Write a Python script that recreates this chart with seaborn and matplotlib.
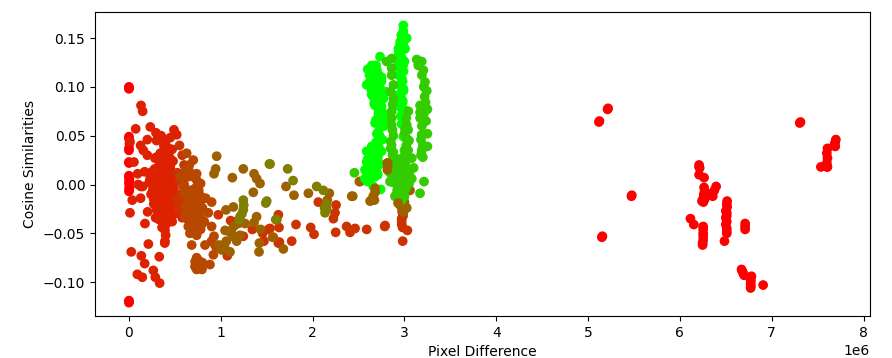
import numpy as np
import pandas as pd
import matplotlib
matplotlib.use('Agg')
import matplotlib.pyplot as plt
from matplotlib.colors import LinearSegmentedColormap
import seaborn as sns

# pixel difference in millions, cosine similarity, grouped by how green the point is
red_x = [0, 0, 0, 0, 0, 0, 0, 0, 0.005, 0.005, 0, 0, 0, 0, 0, 0, 0, 0, 0.003, 0.003, 0.003,
         5.218, 5.212, 5.124, 5.118, 5.476, 5.472, 5.156, 5.15, 7.313, 7.305, 7.698, 7.691, 7.607, 7.607, 7.607, 7.535,
         7.60, 7.60, 7.60, 7.69, 7.68,
         6.209, 6.209, 6.209, 6.215, 6.263, 6.263, 6.263, 6.256, 6.394, 6.358, 6.115, 6.151,
         6.375, 6.27, 6.25, 6.27, 6.35, 6.24, 6.26, 6.253, 6.253, 6.253, 6.247, 6.253, 6.253, 6.247,
         6.514, 6.514, 6.51, 6.51, 6.51, 6.51, 6.485, 6.50, 6.50, 6.50, 6.51, 6.51, 6.51,
         6.71, 6.71, 6.71, 6.671, 6.70, 6.779, 6.772, 6.772, 6.906, 6.68, 6.69, 6.77, 6.77, 6.77]
red_y = [0.100, 0.047, 0.035, 0.022, 0.009, 0.001, -0.007, -0.120, 0.042, 0.005, 0.098, 0.099, -0.119, -0.121,
         0.049, 0.037, 0.023, 0.007, -0.003, 0.003, -0.005,
         0.078, 0.077, 0.065, 0.064, -0.011, -0.012, -0.053, -0.054, 0.064, 0.063, 0.046, 0.039, 0.037, 0.027, 0.018, 0.018,
         0.032, 0.022, 0.018, 0.043, 0.040,
         0.020, 0.018, 0.010, 0.017, 0.007, -0.003, -0.012, -0.018, -0.002, -0.012, -0.035, -0.041,
         -0.006, -0.007, -0.015, -0.015, -0.009, -0.017, -0.010, -0.043, -0.050, -0.057, -0.062, -0.046, -0.053, -0.060,
         -0.017, -0.023, -0.032, -0.038, -0.045, -0.050, -0.058, -0.027, -0.034, -0.041, -0.020, -0.029, -0.048,
         -0.043, -0.040, -0.046, -0.087, -0.093, -0.094, -0.099, -0.104, -0.103, -0.089, -0.091, -0.097, -0.102, -0.106]

left_x = [0.131, 0.149, 0.073, 0.232, 0.011, 0.127, 0.156, 0.200, 0.294, 0.054, 0.094, 0.283,
          0.149, 0.036, 0.127, 0.011, 0.203, 0.174, 0.211, 0.025, 0.134, 0.171, 0.330, 0.091,
          0.145, 0.265, 0.287, 0.334, 0.392, 0.392, 0.381,
          0.30, 0.35, 0.40, 0.45, 0.49, 0.52, 0.38, 0.42, 0.47, 0.30, 0.34, 0.39, 0.44, 0.48,
          0.25, 0.28, 0.33, 0.37, 0.41, 0.46, 0.50, 0.22, 0.26, 0.31, 0.36, 0.40, 0.44, 0.49,
          0.24, 0.29, 0.34, 0.38, 0.43, 0.47, 0.52, 0.27, 0.32, 0.37, 0.42, 0.46, 0.35, 0.40,
          0.30, 0.44, 0.50, 0.54, 0.58, 0.38, 0.34, 0.41, 0.47,
          0.33, 0.37, 0.41, 0.45, 0.31, 0.35, 0.39, 0.43, 0.47, 0.33, 0.37, 0.41, 0.45, 0.49,
          0.27, 0.31, 0.35, 0.39, 0.43, 0.47, 0.29, 0.33, 0.37, 0.41, 0.45, 0.49, 0.53, 0.36, 0.40, 0.38, 0.39,
          0.20, 0.23, 0.17, 0.13, 0.10, 0.26, 0.38, 0.40, 0.36, 0.395]
left_y = [0.081, 0.075, 0.057, 0.059, 0.044, 0.040, 0.035, 0.046, 0.053, 0.023, 0.011, 0.027,
          -0.002, -0.016, -0.014, -0.029, -0.028, -0.040, -0.061, -0.069, -0.073, -0.081, -0.074, -0.092,
          -0.095, -0.088, -0.095, -0.101, -0.058, -0.047, -0.035,
          0.045, 0.050, 0.045, 0.048, 0.056, 0.051, 0.035, 0.038, 0.036, 0.028, 0.025, 0.026, 0.028, 0.024,
          0.013, 0.016, 0.012, 0.015, 0.012, 0.014, 0.011, 0.002, 0.000, 0.003, -0.001, 0.002, 0.000, 0.003,
          -0.010, -0.008, -0.012, -0.009, -0.011, -0.008, -0.012, -0.020, -0.022, -0.019, -0.021, -0.024,
          -0.030, -0.028, -0.026, -0.032, -0.030, -0.028, -0.034, 0.040, 0.032, -0.040, -0.038,
          0.020, 0.020, 0.018, 0.019, 0.008, 0.007, 0.006, 0.006, 0.007, -0.004, -0.005, -0.003, -0.005, -0.004,
          -0.015, -0.016, -0.017, -0.014, -0.016, -0.015, -0.034, -0.036, -0.026, -0.034, -0.024, -0.020, -0.019, -0.044, -0.052, -0.028, -0.060,
          0.030, 0.006, 0.013, -0.002, 0.000, -0.005, 0.030, 0.031, -0.024, -0.042]

rust_x = [0.973, 1.107, 1.166, 1.245, 1.344, 1.071, 1.518, 1.456, 1.47, 1.627, 1.627,
          2.062, 2.255, 2.244, 2.226, 1.634, 1.819, 1.536, 1.979, 2.015, 2.251, 2.37, 2.407,
          2.462, 2.589, 2.785, 1.772, 1.638, 2.97, 2.97, 2.981, 3.032, 2.789,
          0.55, 0.58, 0.60, 0.53, 0.56, 0.60, 0.52, 0.56, 0.54, 0.58, 0.61, 0.63, 2.975, 2.985, 2.97, 2.98]
rust_y = [-0.031, -0.037, -0.038, -0.053, -0.046, -0.073, -0.046, -0.050, -0.058, -0.031, -0.060,
          -0.018, -0.021, -0.029, -0.035, -0.044, -0.041, -0.045, -0.044, -0.051, -0.049, -0.043, -0.049,
          -0.045, -0.046, -0.043, -0.058, -0.059, -0.035, -0.041, -0.058, -0.047, -0.042,
          0.040, 0.030, 0.020, 0.012, 0.003, 0.000, -0.015, -0.010, -0.025, -0.023, -0.015, -0.035, -0.028, -0.032, -0.038, -0.044]

orange_x = [0.628, 0.70, 0.657, 0.737, 0.78, 0.556, 0.646, 0.592, 0.664, 0.70, 0.773, 0.664, 0.61,
            0.683, 0.773, 0.79, 0.664, 0.737, 0.646, 0.683, 0.737, 0.719, 0.795, 0.737,
            0.835, 0.90, 0.864, 0.90, 0.926, 0.828, 0.937, 0.919, 0.882,
            0.62, 0.66, 0.70, 0.74, 0.60, 0.64, 0.68, 0.72, 0.76, 0.62, 0.66, 0.70, 0.74, 0.78,
            0.64, 0.68, 0.72, 0.76, 0.80, 0.70, 0.74, 0.78, 0.82, 0.76, 0.80, 0.75, 0.78, 0.72, 0.76, 0.90, 0.95]
orange_y = [0.032, 0.025, 0.020, 0.011, 0.001, 0.008, 0.008, -0.002, -0.006, -0.014, -0.019, -0.026, -0.033,
            -0.036, -0.033, -0.041, -0.050, -0.052, -0.043, -0.062, -0.075, -0.084, -0.087, -0.087,
            -0.014, -0.018, -0.029, -0.043, -0.053, -0.062, -0.062, -0.072, -0.082,
            0.015, 0.013, 0.008, 0.004, -0.010, -0.012, -0.009, -0.004, -0.006, -0.022, -0.020, -0.023, -0.025, -0.012,
            -0.030, -0.031, -0.034, -0.028, -0.024, -0.044, -0.042, -0.046, -0.038, -0.078, -0.080, -0.082, -0.085, -0.079, -0.083, -0.058, -0.064]

brown_x = [0.955, 0.944, 0.926, 1.126, 1.245, 1.362, 1.39, 1.427, 1.354, 1.057, 1.137, 1.21, 1.19, 1.264,
           1.39, 1.362, 1.046, 1.118, 1.21, 1.173, 1.028, 1.10, 1.01, 1.434, 1.42, 1.416, 1.565, 1.61,
           1.536, 1.71, 1.797, 1.954, 2.16, 2.182, 1.681, 1.572, 2.509, 2.426, 2.516, 2.437,
           3.061, 3.025, 2.953, 0.98, 1.02, 1.06, 1.15, 1.09, 1.14, 1.04, 2.96, 2.97, 2.99, 3.00, 2.98]
brown_y = [0.029, 0.016, 0.011, 0.007, 0.016, 0.011, 0.006, 0.001, -0.008, -0.026, -0.023, -0.033, -0.040, -0.040,
           -0.033, -0.039, -0.047, -0.050, -0.052, -0.058, -0.062, -0.069, -0.067, -0.046, -0.060, -0.069, -0.054, -0.036,
           0.021, -0.002, -0.011, -0.009, -0.016, -0.009, -0.066, -0.054, 0.003, -0.012, 0.003, -0.012,
           -0.006, -0.024, -0.021, -0.062, -0.066, -0.058, -0.054, -0.048, -0.043, -0.064, -0.014, -0.024, -0.028, -0.018, -0.010]

olive_x = [1.245, 1.529, 1.49, 1.50, 1.245, 1.598, 1.728, 1.787, 2.044, 2.117, 2.153, 2.135, 1.23, 1.20, 1.25, 2.15, 2.13]
olive_y = [-0.016, 0.021, -0.019, -0.017, -0.026, -0.036, 0.016, 0.004, -0.002, -0.006, -0.025, -0.029, -0.030, -0.036, -0.021, -0.020, -0.024]

bright_x = [2.988, 2.988, 2.953, 3.025, 2.934, 3.007, 2.97, 2.953, 2.97, 2.988, 2.953, 3.006, 2.953, 2.988, 2.999,
            2.734, 2.643, 2.625, 2.589, 2.643, 2.70, 2.68, 2.734, 2.771, 2.68, 2.716, 2.68, 2.771, 2.843, 2.716,
            2.716, 2.589, 2.643, 2.716, 2.589, 2.57, 2.625, 2.57, 2.716, 2.661, 2.741, 2.62, 2.66, 2.70, 2.75, 2.80,
            2.60, 2.62, 2.65, 2.67, 2.69, 2.72, 2.75, 2.62, 2.65, 2.68, 2.71, 2.74, 2.64, 2.66, 2.69, 2.72, 2.75,
            2.67, 2.70, 2.73, 2.76, 2.79, 2.69, 2.72, 2.75, 2.78, 2.70, 2.73, 2.76, 2.69, 2.72, 2.75, 2.68, 2.71, 2.66,
            2.69, 2.60, 2.63, 2.66, 2.69, 2.72, 2.59, 2.62, 2.65, 2.68, 2.60, 2.63, 2.66, 2.71,
            2.94, 2.96, 2.98, 3.00, 2.93, 2.95, 2.97, 2.99, 2.94, 2.96, 2.98, 2.95, 2.97, 2.99, 2.94, 2.96, 2.98,
            2.95, 2.97, 2.96, 2.98, 2.97, 2.94, 2.95, 2.99, 2.965, 2.985]
bright_y = [0.163, 0.157, 0.146, 0.150, 0.139, 0.139, 0.129, 0.119, 0.109, 0.098, 0.088, 0.076, 0.080, 0.049, 0.035,
            0.131, 0.122, 0.114, 0.102, 0.092, 0.117, 0.107, 0.099, 0.088, 0.081, 0.073, 0.063, 0.064, 0.064, 0.054,
            0.046, 0.034, 0.039, 0.037, 0.023, 0.015, 0.010, 0.006, 0.023, 0.018, -0.005, 0.028, 0.028, 0.012, 0.110, 0.095,
            0.118, 0.112, 0.120, 0.113, 0.122, 0.112, 0.106, 0.105, 0.108, 0.100, 0.100, 0.092, 0.097, 0.090, 0.092, 0.086, 0.080,
            0.083, 0.080, 0.076, 0.074, 0.070, 0.066, 0.064, 0.060, 0.060, 0.052, 0.050, 0.046, 0.043, 0.038, 0.034, 0.033, 0.028, 0.030,
            0.022, 0.026, 0.022, 0.019, 0.015, 0.020, 0.012, 0.018, 0.012, 0.008, 0.003, 0.006, -0.002, 0.010,
            0.135, 0.132, 0.128, 0.126, 0.122, 0.125, 0.120, 0.116, 0.112, 0.110, 0.106, 0.102, 0.100, 0.096, 0.092, 0.090, 0.086,
            0.080, 0.078, 0.070, 0.084, 0.062, 0.132, 0.142, 0.146, 0.153, 0.122]

lime_x = [2.861, 2.807, 2.861, 2.861, 2.88, 2.88, 2.861, 2.861, 2.85, 2.88,
          3.134, 3.188, 3.206, 3.224, 3.243, 3.170, 3.25, 3.17, 3.236, 3.188, 3.25, 3.188, 3.25,
          3.025, 3.043, 3.025, 3.006, 3.08, 3.10, 3.08, 2.953, 2.898, 2.843, 2.97, 2.898, 2.988,
          2.455, 3.213, 3.17, 2.843, 2.953,
          2.85, 2.87, 2.86, 2.87, 2.88, 2.86, 2.85, 2.87,
          3.15, 3.19, 3.21, 3.22, 3.23, 3.17, 3.19, 3.21, 3.18, 3.20, 3.18, 3.20,
          3.02, 3.04, 3.00, 3.02, 3.05, 3.01, 3.04, 3.03,
          2.88, 2.90, 2.93, 2.95, 2.97, 2.99, 3.01, 3.03, 3.05, 2.90, 2.93, 2.96, 2.99, 3.02, 3.05,
          2.88, 2.91, 2.94, 2.97, 3.00, 3.03, 2.92, 2.95, 2.98, 3.01, 2.90, 2.94, 2.97, 3.00]
lime_y = [0.129, 0.126, 0.119, 0.112, 0.102, 0.088, 0.075, 0.061, 0.044, 0.033,
          0.128, 0.126, 0.117, 0.105, 0.096, 0.081, 0.077, 0.068, 0.065, 0.051, 0.052, 0.035, 0.039,
          0.061, 0.075, 0.047, 0.057, 0.027, 0.017, 0.006, 0.020, 0.013, 0.012, 0.003, -0.012, -0.004,
          0.012, 0.003, -0.009, 0.003, 0.006,
          0.095, 0.082, 0.068, 0.056, 0.050, 0.040, 0.037, 0.030,
          0.122, 0.112, 0.100, 0.090, 0.084, 0.074, 0.060, 0.072, 0.046, 0.040, 0.030, 0.028,
          0.068, 0.056, 0.052, 0.040, 0.045, 0.035, 0.035, 0.028,
          0.020, 0.022, 0.024, 0.026, 0.022, 0.028, 0.022, 0.015, 0.012, 0.010, 0.012, 0.014, 0.016, 0.008, 0.001,
          0.002, 0.003, 0.000, 0.004, 0.006, -0.001, -0.006, -0.008, -0.008, -0.005, -0.012, -0.014, -0.016, -0.012]

top_x = [2.814, 2.814, 2.817, 2.817, 2.68, 2.68, 2.644, 2.626, 2.673, 2.93, 2.66]
top_y = [0.022, 0.015, 0.022, 0.018, -0.004, -0.008, -0.016, -0.017, -0.016, -0.019, -0.012]

# green share of each group, drawing order matters because the clouds overlap
groups = [(red_x, red_y, 0.0), (left_x, left_y, 0.13), (rust_x, rust_y, 0.2),
          (orange_x, orange_y, 0.28), (brown_x, brown_y, 0.38), (olive_x, olive_y, 0.5),
          (bright_x, bright_y, 1.0), (lime_x, lime_y, 0.8), (top_x, top_y, 0.38)]

frames = []
for xs, ys, g in groups:
    frames.append(pd.DataFrame({'x': np.array(xs) * 1e6, 'y': ys, 'g': g}))
df = pd.concat(frames, ignore_index=True)

red_green = LinearSegmentedColormap.from_list('red_green', ['#ff0000', '#00ff00'])

fig = plt.figure(figsize=(8.92, 3.58), dpi=100)
ax = fig.add_axes([95 / 892, 1 - 316 / 358, 775 / 892, 304 / 358])

sns.scatterplot(data=df, x='x', y='y', hue='g', palette=red_green, hue_norm=(0, 1),
                s=36, linewidth=1, edgecolor='face', legend=False, ax=ax)

ax.set_xlim(-0.37e6, 8.07e6)
ax.set_ylim(-0.1347, 0.1767)
ax.set_xlabel('Pixel Difference')
ax.set_ylabel('Cosine Similarities')

fig.savefig('out.png', dpi=100)
